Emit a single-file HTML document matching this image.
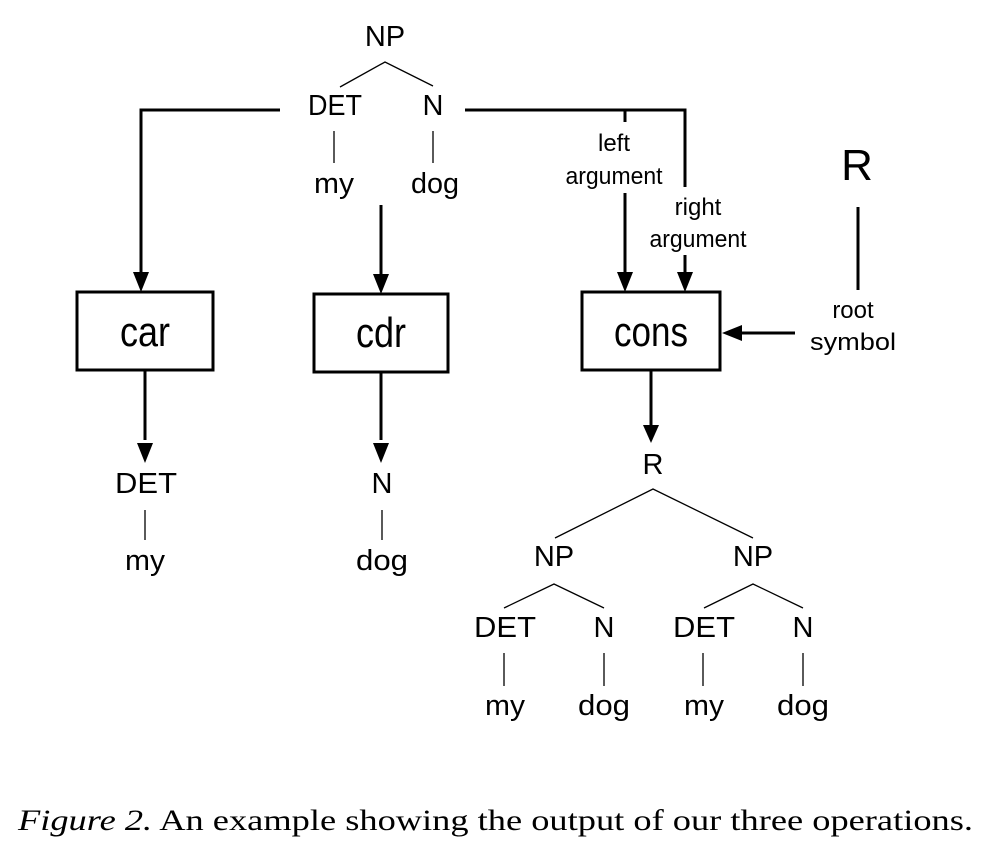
<!DOCTYPE html>
<html><head><style>
html,body{margin:0;padding:0;background:#fff;}
svg{display:block;}
text{font-family:"Liberation Sans",Arial,sans-serif;fill:#000;}
</style></head><body>
<svg width="988" height="842" viewBox="0 0 988 842" xmlns="http://www.w3.org/2000/svg">
<g font-size="29" text-anchor="middle">
<text x="385" y="46">NP</text>
<text x="335" y="115" textLength="54" lengthAdjust="spacingAndGlyphs">DET</text>
<text x="433" y="115">N</text>
<text x="334" y="193" textLength="40" lengthAdjust="spacingAndGlyphs">my</text>
<text x="435" y="193" textLength="48" lengthAdjust="spacingAndGlyphs">dog</text>
<text x="146" y="493" textLength="62" lengthAdjust="spacingAndGlyphs">DET</text>
<text x="145" y="570" textLength="40" lengthAdjust="spacingAndGlyphs">my</text>
<text x="382" y="493">N</text>
<text x="382" y="570" textLength="52" lengthAdjust="spacingAndGlyphs">dog</text>
<text x="653" y="474">R</text>
<text x="554" y="566">NP</text>
<text x="753" y="566">NP</text>
<text x="505" y="637" textLength="62" lengthAdjust="spacingAndGlyphs">DET</text>
<text x="604" y="637">N</text>
<text x="704" y="637" textLength="62" lengthAdjust="spacingAndGlyphs">DET</text>
<text x="803" y="637">N</text>
<text x="505" y="715" textLength="40" lengthAdjust="spacingAndGlyphs">my</text>
<text x="604" y="715" textLength="52" lengthAdjust="spacingAndGlyphs">dog</text>
<text x="704" y="715" textLength="40" lengthAdjust="spacingAndGlyphs">my</text>
<text x="803" y="715" textLength="52" lengthAdjust="spacingAndGlyphs">dog</text>
</g>
<g font-size="24" text-anchor="middle">
<text x="614" y="151">left</text>
<text x="614" y="184" textLength="97" lengthAdjust="spacingAndGlyphs">argument</text>
<text x="698" y="215">right</text>
<text x="698" y="247" textLength="97" lengthAdjust="spacingAndGlyphs">argument</text>
<text x="853" y="318">root</text>
<text x="853" y="350" textLength="86" lengthAdjust="spacingAndGlyphs">symbol</text>
</g>
<text x="857" y="180" font-size="44" text-anchor="middle">R</text>
<g font-size="42" text-anchor="middle">
<text x="145" y="346" textLength="50" lengthAdjust="spacingAndGlyphs">car</text>
<text x="381" y="347" textLength="50" lengthAdjust="spacingAndGlyphs">cdr</text>
<text x="651" y="346" textLength="74" lengthAdjust="spacingAndGlyphs">cons</text>
</g>
<g stroke="#000" stroke-width="1.3" fill="none">
<polyline points="340,87 385,62 433,86"/>
<line x1="334" y1="131" x2="334" y2="163"/>
<line x1="433" y1="131" x2="433" y2="163"/>
<line x1="145" y1="510" x2="145" y2="540"/>
<line x1="382" y1="510" x2="382" y2="540"/>
<polyline points="555,538 653,489 753,538"/>
<polyline points="504,608 554,584 604,608"/>
<polyline points="704,608 753,584 803,608"/>
<line x1="504" y1="653" x2="504" y2="686"/>
<line x1="604" y1="653" x2="604" y2="686"/>
<line x1="703" y1="653" x2="703" y2="686"/>
<line x1="803" y1="653" x2="803" y2="686"/>
</g>
<g stroke="#000" stroke-width="3" fill="none">
<polyline points="280,110 141,110 141,275"/>
<polyline points="465,110 685,110 685,187"/>
<line x1="625" y1="110" x2="625" y2="122"/>
<line x1="625" y1="193" x2="625" y2="275"/>
<line x1="685" y1="255" x2="685" y2="275"/>
<line x1="381" y1="205" x2="381" y2="277"/>
<line x1="145" y1="370" x2="145" y2="440"/>
<line x1="381" y1="372" x2="381" y2="440"/>
<line x1="651" y1="370" x2="651" y2="425"/>
<line x1="795" y1="333" x2="740" y2="333"/>
<line x1="858" y1="207" x2="858" y2="290"/>
<rect x="77" y="292" width="136" height="78"/>
<rect x="314" y="294" width="134" height="78"/>
<rect x="582" y="292" width="138" height="78"/>
</g>
<g fill="#000">
<polygon points="133,272 149,272 141,292"/>
<polygon points="617,272 633,272 625,292"/>
<polygon points="677,272 693,272 685,292"/>
<polygon points="373,274 389,274 381,294"/>
<polygon points="137,443 153,443 145,463"/>
<polygon points="373,443 389,443 381,463"/>
<polygon points="643,425 659,425 651,443"/>
<polygon points="742,325 742,341 722,333"/>
</g>
<text x="18" y="830" font-size="30" textLength="955" lengthAdjust="spacingAndGlyphs" style="font-family:'Liberation Serif',serif"><tspan font-style="italic">Figure 2.</tspan> An example showing the output of our three operations.</text>
</svg>
</body></html>
